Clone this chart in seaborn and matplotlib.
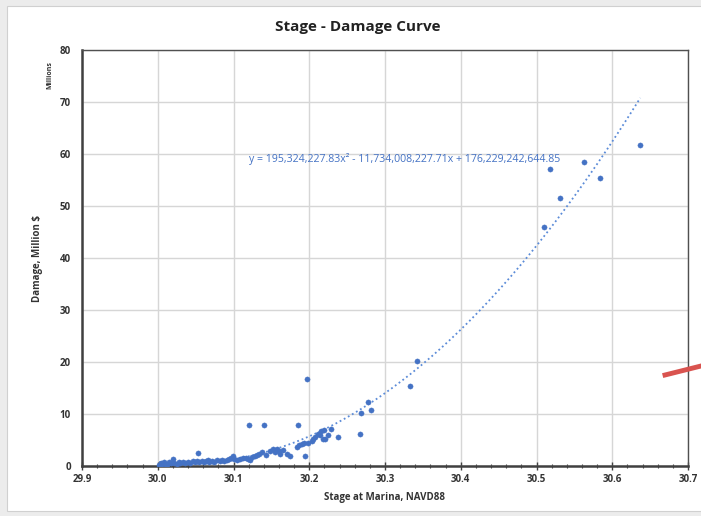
import numpy as np
import pandas as pd
import matplotlib
matplotlib.use("Agg")
import matplotlib.pyplot as plt
import seaborn as sns
from matplotlib.patches import Rectangle
from matplotlib.lines import Line2D
from matplotlib.ticker import MultipleLocator, FuncFormatter

# stage (ft NAVD88) and damage (million $)
stage = [30.002, 30.004, 30.006, 30.008, 30.010, 30.012, 30.015, 30.018, 30.020, 30.022,
         30.025, 30.028, 30.030, 30.033, 30.036, 30.040, 30.043, 30.046, 30.049, 30.052,
         30.053, 30.055, 30.058, 30.061, 30.064, 30.066, 30.068, 30.071, 30.074, 30.078,
         30.082, 30.085, 30.088, 30.091, 30.094, 30.097, 30.099, 30.101, 30.104, 30.108,
         30.112, 30.116, 30.119, 30.122, 30.125, 30.128, 30.131, 30.134, 30.137,
         30.143, 30.148, 30.152, 30.155, 30.157, 30.160, 30.162, 30.165, 30.171, 30.174,
         30.184, 30.186, 30.190, 30.193, 30.194, 30.199, 30.204, 30.205, 30.208, 30.212,
         30.214, 30.216, 30.220, 30.221, 30.218, 30.225, 30.229, 30.238,
         30.121, 30.140, 30.185, 30.197,
         30.267, 30.268, 30.277, 30.281, 30.333, 30.342,
         30.510, 30.518, 30.531, 30.563, 30.584, 30.637]
damage = [0.1, 0.6, 0.3, 0.8, 0.4, 0.2, 0.7, 0.5, 1.3, 0.6,
          0.4, 0.8, 0.5, 0.7, 0.6, 0.8, 0.5, 0.9, 0.7, 1.0,
          2.5, 0.8, 0.9, 0.7, 1.0, 1.2, 0.8, 0.9, 0.7, 1.1,
          1.0, 1.2, 0.9, 1.1, 1.3, 1.5, 1.9, 1.4, 1.2, 1.3,
          1.5, 1.6, 1.4, 1.2, 1.7, 1.9, 2.1, 2.3, 2.6,
          2.05, 2.9, 3.2, 2.6, 3.3, 2.8, 2.4, 3.0, 2.4, 2.0,
          3.6, 4.1, 4.3, 4.5, 2.0, 4.4, 4.75, 5.25, 5.6, 6.2,
          6.0, 6.8, 6.9, 5.25, 5.1, 6.0, 7.1, 5.6,
          7.9, 7.9, 7.9, 16.7,
          6.15, 10.2, 12.25, 10.7, 15.4, 20.2,
          46.0, 57.06, 51.5, 58.5, 55.3, 61.7]

# Excel polynomial trendline (dollars)
coef = [195324227.83, -11734008227.71, 176229242644.85]
eq_text = "y = 195,324,227.83x² - 11,734,008,227.71x + 176,229,242,644.85"

df = pd.DataFrame({"stage": stage, "damage": damage})

blue = "#4472c4"
plt.rcParams["font.family"] = ["Open Sans", "DejaVu Sans"]

fig = plt.figure(figsize=(7.01, 5.16), dpi=100, facecolor="#ececec")
fig.patches.append(Rectangle((7 / 701, 5 / 516), 1.0, 505 / 516, transform=fig.transFigure,
                             facecolor="white", edgecolor="#d0d0d0", linewidth=0.8, zorder=-5))

ax = fig.add_axes([82 / 701, 50 / 516, 606 / 701, 416 / 516])
ax.set_zorder(2)
ax.set_facecolor("white")

sns.scatterplot(data=df, x="stage", y="damage", color=blue, s=14, edgecolor=blue,
                linewidth=0.3, ax=ax, zorder=3)

xs = np.linspace(min(stage), max(stage), 300)
ys = np.polyval(coef, xs) / 1e6
ax.plot(xs, ys, linestyle=(0, (1, 1.6)), color="#5b8bd8", linewidth=1.3, zorder=2)

ax.set_xlim(29.9, 30.7)
ax.set_ylim(0, 80)
ax.xaxis.set_major_locator(MultipleLocator(0.1))
ax.xaxis.set_minor_locator(MultipleLocator(0.02))
ax.yaxis.set_major_locator(MultipleLocator(10))
ax.xaxis.set_major_formatter(FuncFormatter(lambda v, p: f"{v:.1f}"))
ax.grid(True, which="major", color="#d6d6d6", linewidth=1.0, zorder=0)
ax.set_axisbelow(True)

for side in ["left", "bottom"]:
    ax.spines[side].set_color("#404040")
    ax.spines[side].set_linewidth(1.8)
for side in ["top", "right"]:
    ax.spines[side].set_color("#505050")
    ax.spines[side].set_linewidth(1.0)

ax.tick_params(axis="x", which="major", direction="inout", length=6, width=1.0,
               color="#404040", labelsize=7, pad=3, labelcolor="#333333")
ax.tick_params(axis="x", which="minor", direction="inout", length=3, width=0.8, color="#404040")
ax.tick_params(axis="y", which="major", length=0, labelsize=7, pad=8, labelcolor="#333333")
for lab in ax.get_xticklabels() + ax.get_yticklabels():
    lab.set_fontweight("bold")

ax.set_xlabel("Stage at Marina, NAVD88", fontsize=7, fontweight="bold", color="#333333", labelpad=5)
ax.set_ylabel("Damage, Million $", fontsize=7, fontweight="bold", color="#333333", labelpad=12)

fig.text(358 / 701, 1 - 27 / 516, "Stage - Damage Curve", ha="center", va="center",
         fontsize=11, fontweight="bold", color="#222222")
fig.text(50 / 701, 1 - 75 / 516, "Millions", rotation=90, ha="center", va="center",
         fontsize=5, fontweight="bold", color="#333333")
ax.text(30.121, 59, eq_text, ha="left", va="center", fontsize=7.6, color=blue)

# red stroke cut by the image edge
fig.lines.append(Line2D([665 / 701, 1.0], [1 - 375 / 516, 1 - 366 / 516], transform=fig.transFigure,
                        color="#d9534f", linewidth=3.5, zorder=5))

fig.savefig("out.png", dpi=100, facecolor=fig.get_facecolor())
